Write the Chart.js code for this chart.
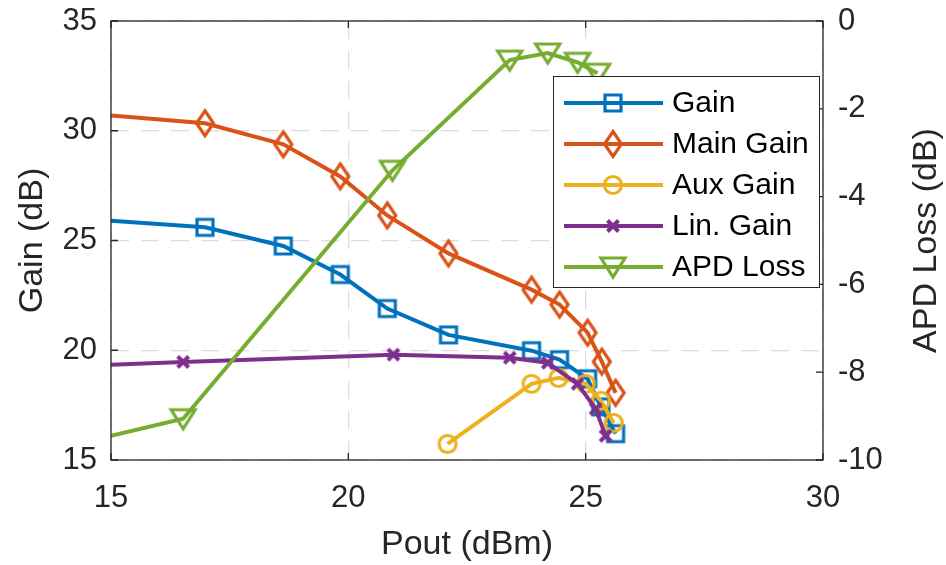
<!DOCTYPE html>
<html>
<head>
<meta charset="utf-8">
<script src="https://cdn.jsdelivr.net/npm/chart.js@4.4.0/dist/chart.umd.min.js"></script>
<style>
  html, body { margin: 0; padding: 0; background: #fff; }
</style>
</head>
<body>
<canvas id="gainChart" width="946" height="565"></canvas>
<script>
// values (Pout in dBm)
const gainX = [15, 16.98, 18.63, 19.83, 20.82, 22.11, 23.86, 24.45, 25.04, 25.32, 25.63];
const gainY = [25.9, 25.6, 24.75, 23.45, 21.9, 20.7, 19.98, 19.57, 18.7, 17.42, 16.2];

const mainX = [15, 16.98, 18.63, 19.83, 20.82, 22.11, 23.86, 24.45, 25.04, 25.34, 25.63];
const mainY = [30.7, 30.34, 29.38, 27.92, 26.14, 24.41, 22.76, 22.08, 20.8, 19.48, 18.06];

const auxX = [22.09, 23.86, 24.43, 25.0, 25.32, 25.59];
const auxY = [15.73, 18.47, 18.74, 18.47, 17.7, 16.69];

const linX = [15, 16.52, 20.95, 23.4, 24.2, 24.83, 25.21, 25.42];
const linY = [19.34, 19.47, 19.8, 19.66, 19.43, 18.47, 17.33, 16.1];

const apdX = [15, 16.52, 20.93, 23.4, 24.2, 24.83, 25.25];
const apdY = [-9.45, -9.06, -3.4, -0.89, -0.73, -0.94, -1.19];

const xTicks = [15, 20, 25, 30];
const gainTicks = [15, 20, 25, 30, 35];
const lossTicks = [-10, -8, -6, -4, -2, 0];

const FONT = "'Liberation Sans', Arial, Helvetica, sans-serif";
const TEXT = '#262626';
const colors = {
    gain: '#0072BD',
    main: '#D95319',
    aux: '#EDB120',
    lin: '#7E2F8E',
    apd: '#77AC30'
};

// matlab-like open markers drawn on small canvases
function makeMarker(kind, color) {
    const c = document.createElement('canvas');
    c.width = 36;
    c.height = 36;
    const g = c.getContext('2d');
    g.strokeStyle = color;
    g.lineWidth = 3.2;
    g.lineJoin = 'miter';
    g.translate(18, 18);
    g.beginPath();
    if (kind === 'square') {
        g.rect(-8, -8, 16, 16);
    } else if (kind === 'diamond') {
        g.moveTo(0, -12.5);
        g.lineTo(8.5, 0);
        g.lineTo(0, 12.5);
        g.lineTo(-8.5, 0);
        g.closePath();
    } else if (kind === 'circle') {
        g.arc(0, 0, 8.5, 0, Math.PI * 2);
    } else if (kind === 'cross') {
        g.lineWidth = 4;
        g.moveTo(-5.5, -5.5); g.lineTo(5.5, 5.5);
        g.moveTo(5.5, -5.5); g.lineTo(-5.5, 5.5);
    } else if (kind === 'tri') {
        g.moveTo(-12, -9);
        g.lineTo(12, -9);
        g.lineTo(0, 10);
        g.closePath();
    }
    g.stroke();
    return c;
}

function pts(xs, ys) {
    return xs.map((x, i) => ({ x: x, y: ys[i] }));
}

function series(label, xs, ys, color, marker, axis, order) {
    return {
        label: label,
        data: pts(xs, ys),
        yAxisID: axis,
        borderColor: color,
        backgroundColor: color,
        borderWidth: 4,
        tension: 0,
        pointStyle: makeMarker(marker, color),
        pointRadius: ctx => (ctx.raw && ctx.raw.x <= 15 ? 0 : 10),
        pointHoverRadius: 10,
        order: order,
        clip: 0
    };
}

const datasets = [
    series('Gain', gainX, gainY, colors.gain, 'square', 'y', 5),
    series('Main Gain', mainX, mainY, colors.main, 'diamond', 'y', 4),
    series('Aux Gain', auxX, auxY, colors.aux, 'circle', 'y', 3),
    series('Lin. Gain', linX, linY, colors.lin, 'cross', 'y', 2),
    series('APD Loss', apdX, apdY, colors.apd, 'tri', 'y2', 1)
];

// box, inward ticks, right title, legend
const matlabAxes = {
    id: 'matlabAxes',
    afterDatasetsDraw(chart) {
        const ctx = chart.ctx;
        const a = chart.chartArea;
        const sx = chart.scales.x, sy = chart.scales.y, sy2 = chart.scales.y2;
        ctx.save();
        ctx.strokeStyle = TEXT;
        ctx.lineWidth = 1.3;
        ctx.beginPath();
        xTicks.forEach(v => {
            const px = sx.getPixelForValue(v);
            ctx.moveTo(px, a.bottom); ctx.lineTo(px, a.bottom - 7);
            ctx.moveTo(px, a.top); ctx.lineTo(px, a.top + 7);
        });
        gainTicks.forEach(v => {
            const py = sy.getPixelForValue(v);
            ctx.moveTo(a.left, py); ctx.lineTo(a.left + 7, py);
        });
        lossTicks.forEach(v => {
            const py = sy2.getPixelForValue(v);
            ctx.moveTo(a.right, py); ctx.lineTo(a.right - 7, py);
        });
        ctx.stroke();
        ctx.strokeRect(a.left, a.top, a.right - a.left, a.bottom - a.top);
        ctx.restore();
    },
    afterDraw(chart) {
        const ctx = chart.ctx;
        const a = chart.chartArea;
        ctx.save();
        // right axis title reads bottom to top
        ctx.translate(927, (a.top + a.bottom) / 2);
        ctx.rotate(-Math.PI / 2);
        ctx.fillStyle = TEXT;
        ctx.font = '34px ' + FONT;
        ctx.textAlign = 'center';
        ctx.textBaseline = 'middle';
        ctx.fillText('APD Loss (dB)', 0, 0);
        ctx.restore();

        // legend
        const w = 266, h = 211;
        const left = a.right - 4 - w, top = a.top + 55;
        ctx.save();
        ctx.fillStyle = '#fff';
        ctx.fillRect(left, top, w, h);
        ctx.strokeStyle = TEXT;
        ctx.lineWidth = 1;
        ctx.strokeRect(left + 0.5, top + 0.5, w, h);
        ctx.font = '30px ' + FONT;
        ctx.textBaseline = 'middle';
        ctx.textAlign = 'left';
        chart.data.datasets.forEach((ds, i) => {
            const y = top + 27 + i * 41;
            ctx.strokeStyle = ds.borderColor;
            ctx.lineWidth = 4;
            ctx.beginPath();
            ctx.moveTo(left + 11, y);
            ctx.lineTo(left + 110, y);
            ctx.stroke();
            const m = ds.pointStyle;
            ctx.drawImage(m, left + 60 - m.width / 2, y - m.height / 2);
            ctx.fillStyle = '#000';
            ctx.fillText(ds.label, left + 119, y + 1);
        });
        ctx.restore();
    }
};

const tickFont = { family: FONT, size: 31 };
const titleFont = { family: FONT, size: 34 };
const gridStyle = { color: '#dcdcdc', lineWidth: 1.3, drawTicks: false };
const gridDash = [18, 12];

function fixVertical(width) {
    return s => { s.width = width; s.paddingTop = 0; s.paddingBottom = 0; };
}

new Chart(document.getElementById('gainChart').getContext('2d'), {
    type: 'line',
    data: { datasets: datasets },
    options: {
        responsive: false,
        animation: false,
        devicePixelRatio: 1,
        layout: { padding: { top: 21, left: 0, right: 0, bottom: 0 } },
        plugins: {
            legend: { display: false },
            tooltip: { enabled: false }
        },
        scales: {
            x: {
                type: 'linear',
                min: 15,
                max: 30,
                afterBuildTicks: s => { s.ticks = xTicks.map(v => ({ value: v })); },
                afterFit: s => { s.height = 105; s.paddingLeft = 0; s.paddingRight = 0; },
                ticks: { font: tickFont, color: TEXT, padding: 20, maxRotation: 0 },
                grid: gridStyle,
                border: { display: false, dash: gridDash },
                title: { display: true, text: 'Pout (dBm)', font: titleFont, color: TEXT, padding: { top: 0, bottom: 0 } }
            },
            y: {
                position: 'left',
                min: 15,
                max: 35,
                afterBuildTicks: s => { s.ticks = gainTicks.map(v => ({ value: v })); },
                afterFit: fixVertical(111),
                ticks: { font: tickFont, color: TEXT, padding: 14 },
                grid: gridStyle,
                border: { display: false, dash: gridDash },
                title: { display: true, text: 'Gain (dB)', font: titleFont, color: TEXT, padding: { top: 12, bottom: 0 } }
            },
            y2: {
                position: 'right',
                min: -10,
                max: 0,
                afterBuildTicks: s => { s.ticks = lossTicks.map(v => ({ value: v })); },
                afterFit: fixVertical(123),
                ticks: { font: tickFont, color: TEXT, padding: 15 },
                grid: { display: false, drawTicks: false },
                border: { display: false }
            }
        }
    },
    plugins: [matlabAxes]
});
</script>
</body>
</html>
